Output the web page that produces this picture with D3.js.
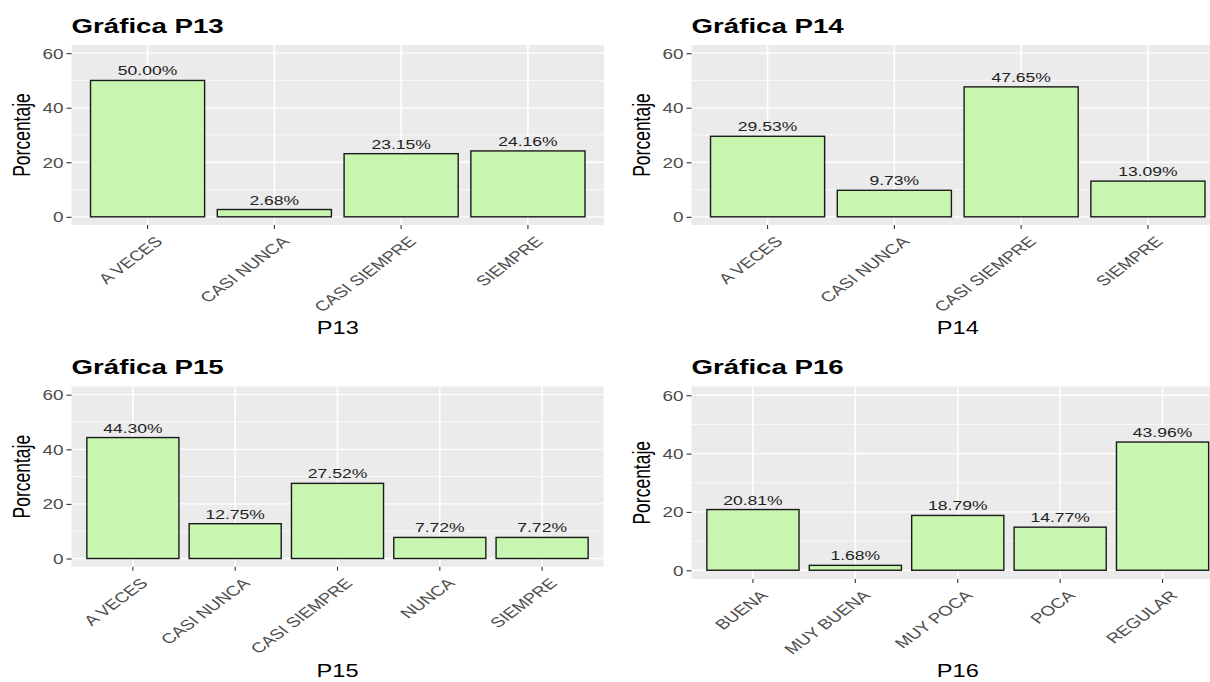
<!DOCTYPE html>
<html>
<head>
<meta charset="utf-8">
<script src="https://cdn.jsdelivr.net/npm/d3@7"></script>
<style>
  body { margin: 0; background: #fff; }
  text { font-family: "Liberation Sans", Arial, sans-serif; }
</style>
</head>
<body>
<svg id="chart" width="1210" height="682"></svg>
<script>

//Data.
var cats13 = ["A VECES", "CASI NUNCA", "CASI SIEMPRE", "SIEMPRE"];
var vals13 = [50.00, 2.68, 23.15, 24.16];

var cats14 = ["A VECES", "CASI NUNCA", "CASI SIEMPRE", "SIEMPRE"];
var vals14 = [29.53, 9.73, 47.65, 13.09];

var cats15 = ["A VECES", "CASI NUNCA", "CASI SIEMPRE", "NUNCA", "SIEMPRE"];
var vals15 = [44.30, 12.75, 27.52, 7.72, 7.72];

var cats16 = ["BUENA", "MUY BUENA", "MUY POCA", "POCA", "REGULAR"];
var vals16 = [20.81, 1.68, 18.79, 14.77, 43.96];

var yTicks = [0, 20, 40, 60];
var yMinor = [10, 30, 50];

//Panel boxes (the picture is stretched horizontally, so text gets sx).
var sx = 1.35;
var panels = [
    {name: "P13", cats: cats13, vals: vals13, left: 71.5, right: 604, top: 45, bottom: 225, titleY: 33, axisY: 334, ylabX: 29.5},
    {name: "P14", cats: cats14, vals: vals14, left: 691.5, right: 1224, top: 45, bottom: 225, titleY: 33, axisY: 334, ylabX: 649.5},
    {name: "P15", cats: cats15, vals: vals15, left: 71.5, right: 603.5, top: 386.5, bottom: 566.7, titleY: 374, axisY: 677, ylabX: 29.5},
    {name: "P16", cats: cats16, vals: vals16, left: 691.5, right: 1224, top: 386.5, bottom: 579, titleY: 374, axisY: 677, ylabX: 649.5}
];

var svg = d3.select("#chart");

panels.forEach(function(p) {

    var x = d3.scaleBand()
        .domain(p.cats)
        .range([p.left, p.right])
        .paddingInner(0.1)
        .paddingOuter(0.15);

    var y = d3.scaleLinear()
        .domain([-3, 63])
        .range([p.bottom, p.top]);

    var g = svg.append("g");

    //Grey panel background.
    g.append("rect")
        .attr("x", p.left)
        .attr("y", p.top)
        .attr("width", p.right - p.left)
        .attr("height", p.bottom - p.top)
        .attr("fill", "#EBEBEB");

    //Grid lines.
    g.selectAll(".minor").data(yMinor).enter().append("line")
        .attr("x1", p.left).attr("x2", p.right)
        .attr("y1", function(d) { return y(d); })
        .attr("y2", function(d) { return y(d); })
        .attr("stroke", "#fff").attr("stroke-width", 0.7);

    g.selectAll(".major").data(yTicks).enter().append("line")
        .attr("x1", p.left).attr("x2", p.right)
        .attr("y1", function(d) { return y(d); })
        .attr("y2", function(d) { return y(d); })
        .attr("stroke", "#fff").attr("stroke-width", 1.3);

    g.selectAll(".vgrid").data(p.cats).enter().append("line")
        .attr("x1", function(d) { return x(d) + x.bandwidth() / 2; })
        .attr("x2", function(d) { return x(d) + x.bandwidth() / 2; })
        .attr("y1", p.top).attr("y2", p.bottom)
        .attr("stroke", "#fff").attr("stroke-width", 1.6);

    //Bars.
    g.selectAll(".bar").data(p.cats).enter().append("rect")
        .attr("x", function(d) { return x(d); })
        .attr("y", function(d, i) { return y(p.vals[i]); })
        .attr("width", x.bandwidth())
        .attr("height", function(d, i) { return y(0) - y(p.vals[i]); })
        .attr("fill", "#C8F5B0")
        .attr("stroke", "#1a1a1a")
        .attr("stroke-width", 1.4);

    //Value labels.
    g.selectAll(".lbl").data(p.cats).enter().append("text")
        .attr("transform", function(d, i) {
            return "translate(" + (x(d) + x.bandwidth() / 2) + "," + (y(p.vals[i]) - 5) + ") scale(" + sx + ",1)";
        })
        .attr("text-anchor", "middle")
        .attr("font-size", 13)
        .attr("fill", "#222")
        .text(function(d, i) { return p.vals[i].toFixed(2) + "%"; });

    //Y axis.
    var yAxis = g.append("g")
        .attr("transform", "translate(" + p.left + ",0)")
        .call(d3.axisLeft(y).tickValues(yTicks).tickSize(5).tickPadding(3));
    yAxis.select(".domain").remove();
    yAxis.selectAll("line").attr("stroke", "#333").attr("stroke-width", 1.1);
    yAxis.selectAll("text")
        .attr("x", 0)
        .attr("dy", "0.35em")
        .attr("transform", "translate(-8,0) scale(" + sx + ",1)")
        .attr("font-size", 14)
        .attr("font-family", null)
        .attr("fill", "#4D4D4D");

    //X axis.
    var xAxis = g.append("g")
        .attr("transform", "translate(0," + p.bottom + ")")
        .call(d3.axisBottom(x).tickSize(4));
    xAxis.select(".domain").remove();
    xAxis.selectAll("line").attr("stroke", "#333").attr("stroke-width", 1.1);
    xAxis.selectAll("text")
        .attr("x", 0)
        .attr("y", 0)
        .attr("dy", "0.75em")
        .attr("text-anchor", "end")
        .attr("transform", "translate(6,10) scale(" + sx + ",1) rotate(-45)")
        .attr("font-size", 14)
        .attr("font-family", null)
        .attr("fill", "#4D4D4D");

    //Title and axis titles.
    g.append("text")
        .attr("transform", "translate(" + p.left + "," + p.titleY + ") scale(" + sx + ",1)")
        .attr("font-size", 20.5)
        .attr("font-weight", "bold")
        .attr("fill", "#000")
        .text("Gráfica " + p.name);

    g.append("text")
        .attr("transform", "translate(" + ((p.left + p.right) / 2) + "," + p.axisY + ") scale(" + sx + ",1)")
        .attr("text-anchor", "middle")
        .attr("font-size", 17.5)
        .attr("fill", "#000")
        .text(p.name);

    g.append("text")
        .attr("transform", "translate(" + p.ylabX + "," + ((p.top + p.bottom) / 2) + ") scale(" + sx + ",1) rotate(-90)")
        .attr("text-anchor", "middle")
        .attr("font-size", 17.5)
        .attr("fill", "#000")
        .text("Porcentaje");
});

</script>
</body>
</html>
